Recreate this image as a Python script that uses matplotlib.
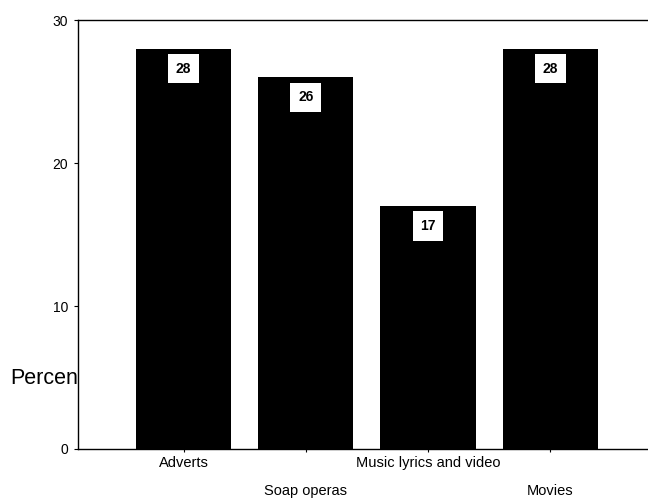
import matplotlib.pyplot as plt

categories = ["Adverts", "Soap operas", "Music lyrics and video", "Movies"]
percent = [28, 26, 17, 28]
yticks = [0, 10, 20, 30]

plt.rcParams["font.family"] = ["Liberation Sans", "DejaVu Sans"]

fig = plt.figure(figsize=(6.48, 5.01), dpi=100)
ax = fig.add_axes([0.1204, 0.1038, 0.8796, 0.8562])
ax.patch.set_facecolor("white")

x = list(range(len(categories)))
ax.bar(x, percent, width=0.78, color="black", zorder=2)

# value boxes a little below the top of each bar
for xi, v in zip(x, percent):
    ax.annotate(str(v), xy=(xi, v), xytext=(0, -13), textcoords="offset pixels",
                ha="center", va="top", fontsize=10, fontweight="bold", color="black",
                bbox=dict(boxstyle="square,pad=0.55", fc="white", ec="none"),
                zorder=3)

ax.set_xlim(-0.863, 3.80)
ax.set_ylim(0, 30)
ax.set_yticks(yticks)
ax.tick_params(axis="y", labelsize=10, length=3, width=0.8, direction="out", pad=4)

# staggered category labels
ax.set_xticks(x)
ax.set_xticklabels(categories, fontsize=10.5)
ax.tick_params(axis="x", length=2.5, width=0.8, direction="out", pad=2.5)
for tick in ax.xaxis.get_major_ticks()[1::2]:
    tick.set_pad(23)

ax.spines["right"].set_visible(False)
for side in ["left", "top", "bottom"]:
    ax.spines[side].set_linewidth(1.0)

# axis label sits behind the plot area so the axes patch hides its tail
fig.text(10 / 648, 1 - 379 / 501, "Percent", fontsize=15.5, ha="left",
         va="center", zorder=-1)

fig.savefig("out.png", dpi=100)
